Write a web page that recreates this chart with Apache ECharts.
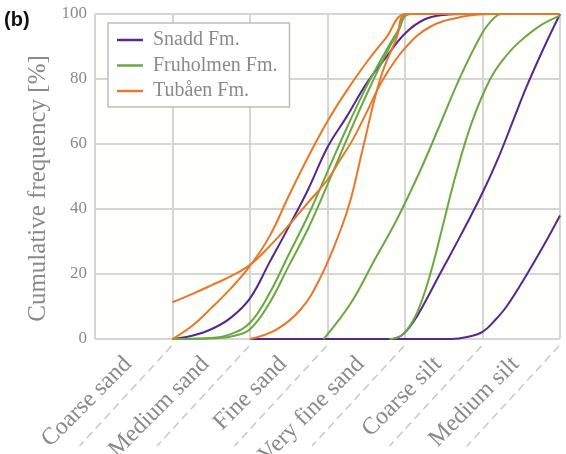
<!DOCTYPE html>
<html><head><meta charset="utf-8">
<script src="https://cdn.jsdelivr.net/npm/echarts@6/dist/echarts.min.js"></script>
<style>html,body{margin:0;padding:0;background:#fff}#c{width:566px;height:454px}</style>
</head><body><div id="c"></div>
<script>
const categories = ['Coarse sand','Medium sand','Fine sand','Very fine sand','Coarse silt','Medium silt'];
const boundaries = [1,2,3,4,5,6];
const formations = ['Snadd Fm.','Fruholmen Fm.','Tubåen Fm.'];

const snadd1 = [[1,0],[1.25,1],[1.5,3],[1.75,6.5],[2,12.5],[2.25,23.5],[2.5,34.5],[2.75,46],[3,59],[3.25,68.5],[3.5,78.5],[3.75,86.5],[4,94],[4.25,98.3],[4.5,99.7],[4.8,100],[6,100]];
const snadd2 = [[2,0],[3.8,0],[3.95,1],[4.1,5],[4.25,11],[4.45,20],[4.71,31.5],[5,45],[5.2,55.5],[5.4,67.5],[5.57,77.7],[5.78,89],[6,100]];
const snadd3 = [[2,0],[4.6,0],[4.8,0.6],[5,2.2],[5.15,5.5],[5.31,10],[5.57,19.8],[5.83,30.5],[6,38]];

const fru1 = [[1,0],[1.5,0.3],[1.75,1.5],[2,5],[2.25,14],[2.5,26],[2.75,38],[3,51.5],[3.25,65],[3.5,77.5],[3.75,88.5],[3.9,94.5],[4.05,100],[6,100]];
const fru2 = [[1,0],[1.6,0.3],[1.8,1],[2,3],[2.25,11],[2.5,22.5],[2.75,34],[3,47.5],[3.25,61.5],[3.5,75],[3.75,87.5],[3.9,94],[4.07,100],[6,100]];
const fru3 = [[2.95,0],[3.3,11],[3.6,24],[3.9,37],[4.2,52],[4.47,67],[4.71,80.5],[4.97,93],[5.1,97.5],[5.25,100],[6,100]];
const fru4 = [[3.8,0],[3.95,1],[4.1,5.5],[4.22,12],[4.35,22],[4.5,36],[4.65,50],[4.86,66.5],[5.1,80],[5.3,87],[5.48,91.5],[5.75,96.5],[6,99.5]];

const tub1 = [[1,11.3],[1.25,13.8],[1.5,16.5],[1.75,19.3],[2,22.8],[2.25,28.5],[2.5,35],[2.75,42],[3,49],[3.16,55],[3.33,61.5],[3.5,69.5],[3.72,80],[4,89.5],[4.32,96],[4.75,99.2],[5.1,100],[6,100]];
const tub2 = [[1,0],[1.25,4],[1.5,9.5],[1.75,15.5],[2,22.5],[2.25,31.5],[2.5,44],[2.75,56],[3,67],[3.25,76.5],[3.5,85],[3.75,92.5],[4.02,100],[6,100]];
const tub3 = [[2,0],[2.34,2.9],[2.65,9],[2.9,18.5],[3.16,33],[3.3,43],[3.45,58],[3.68,80],[3.89,92.5],[4.03,100],[6,100]];

const colors = {'Snadd Fm.':'#56288e','Fruholmen Fm.':'#6aa843','Tubåen Fm.':'#e9772b'};
const groups = [
  ['Snadd Fm.', [snadd1, snadd2, snadd3]],
  ['Fruholmen Fm.', [fru1, fru2, fru3, fru4]],
  ['Tubåen Fm.', [tub1, tub2, tub3]]
];

const grey = '#8a8a8a';
const gridColor = '#d5d5d5';
const serif = 'Liberation Serif';

const series = [];
groups.forEach(([name, curves]) => {
  curves.forEach(d => {
    series.push({
      type: 'line', name: name, xAxisIndex: 1, yAxisIndex: 0,
      data: d, showSymbol: false, symbol: 'none', smooth: 0.4,
      color: colors[name],
      lineStyle: {width: 2, color: colors[name]},
      z: 3
    });
  });
});
series.push({
  type: 'custom', xAxisIndex: 1, yAxisIndex: 0, silent: true, clip: false,
  data: boundaries.map(b => [b, 0]),
  renderItem: (params, api) => {
    const p = api.coord([api.value(0), 0]);
    return {type: 'line', shape: {x1: p[0] - 1, y1: p[1] + 7, x2: p[0] - 93, y2: p[1] + 107},
      style: {stroke: '#c8c8c8', lineWidth: 1.5, lineDash: [8, 5]}};
  },
  z: 1
});

const chart = echarts.init(document.getElementById('c'), null, {renderer: 'canvas'});
chart.setOption({
  animation: false,
  backgroundColor: '#fff',
  title: {text: '(b)', left: 4, top: 10, padding: 0,
    textStyle: {fontSize: 20, fontWeight: 'bold', fontFamily: 'Liberation Sans', color: '#111'}},
  legend: {
    data: formations, orient: 'vertical', left: 108, top: 23,
    icon: 'rect', itemWidth: 26, itemHeight: 2.5, itemGap: 5.5, padding: [7, 12, 6, 9],
    borderColor: '#bdbdbd', borderWidth: 1.5, backgroundColor: '#fff',
    textStyle: {fontSize: 20, color: grey, fontFamily: serif, lineHeight: 20, padding: [0, 0, 0, 5]}
  },
  grid: {left: 95, right: 6, top: 14, bottom: 115, show: true, backgroundColor: '#fefefb', borderWidth: 0,
    containLabel: false, outerBoundsMode: 'none'},
  xAxis: [
    {type: 'category', data: categories, boundaryGap: true,
      axisLine: {show: false}, axisTick: {show: false},
      splitLine: {show: true, interval: 0, lineStyle: {color: gridColor, width: 2}},
      axisLabel: {interval: 0, rotate: 45, fontSize: 24, color: grey, fontFamily: serif, margin: 16, padding: [0, 8, 0, 0]}},
    {type: 'value', min: 0, max: 6, show: false}
  ],
  yAxis: {
    type: 'value', min: 0, max: 100, interval: 20,
    name: 'Cumulative frequency [%]', nameLocation: 'middle', nameGap: 42,
    nameTextStyle: {fontSize: 25, color: grey, fontFamily: serif, padding: [0, 24, 0, 0]},
    axisLine: {show: false}, axisTick: {show: false},
    splitLine: {show: true, lineStyle: {color: gridColor, width: 2}},
    axisLabel: {fontSize: 17, color: grey, fontFamily: serif, margin: 8}
  },
  series: series
});
</script></body></html>
